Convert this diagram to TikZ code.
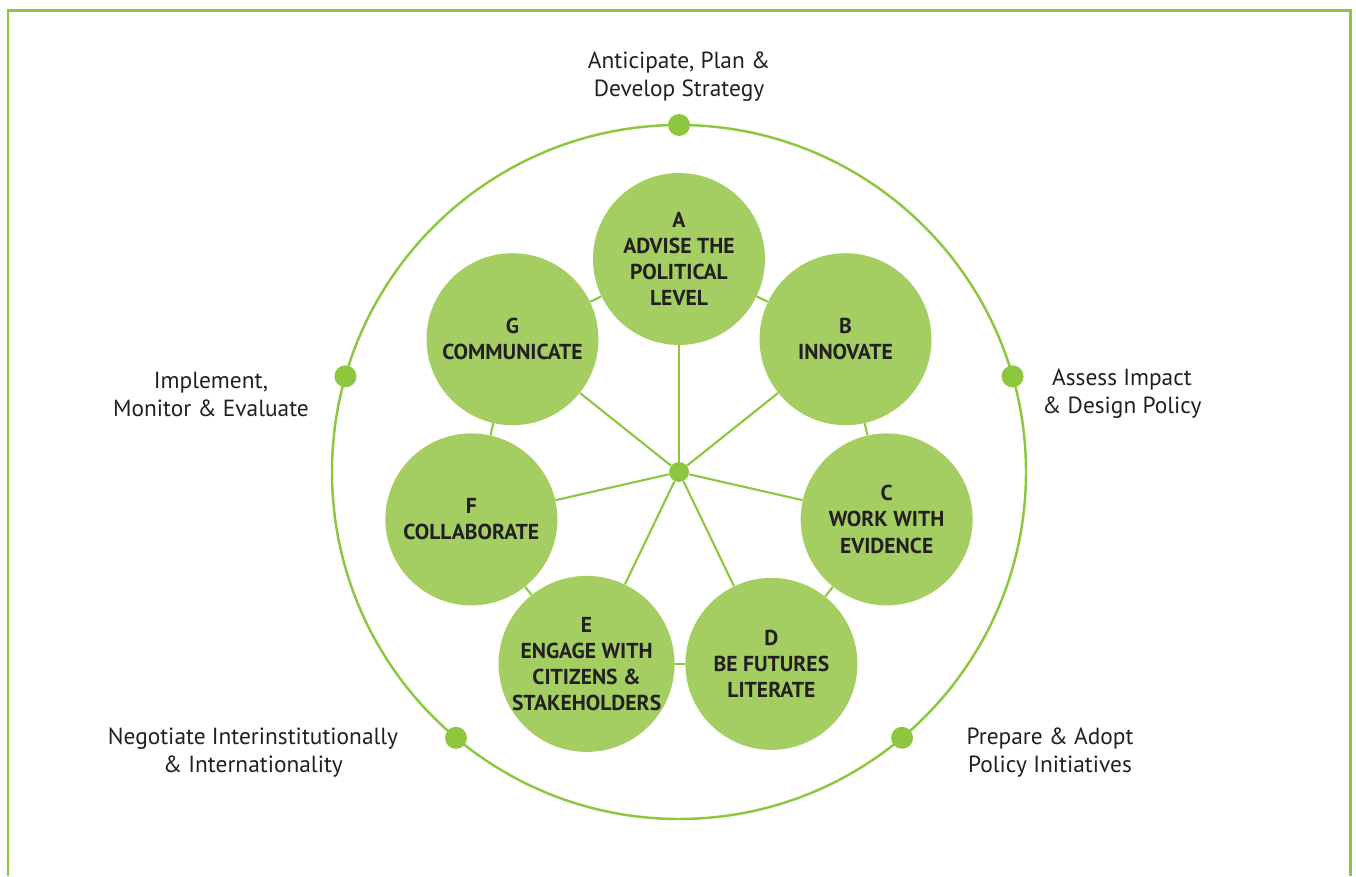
\documentclass[tikz,border=0pt]{standalone}
\usepackage{fontspec}
\setmainfont{PT Sans}
\usetikzlibrary{positioning,calc,backgrounds}

\definecolor{leafgreen}{RGB}{141,198,63}
\definecolor{softgreen}{RGB}{165,206,98}
\definecolor{inkgray}{RGB}{35,31,32}

\begin{document}
\begin{tikzpicture}[x=0.02cm,y=0.02cm,
	frame/.style={draw=leafgreen,line width=1.7pt},
	link/.style={draw=leafgreen,line width=1.2pt},
	skill node/.style={circle,fill=softgreen,minimum size=3.44cm,inner sep=0pt,
		align=center,text=inkgray,font=\bfseries\fontsize{12.3}{14.9}\selectfont},
	phase dot/.style={circle,fill=leafgreen,minimum size=0.44cm,inner sep=0pt},
	hub dot/.style={circle,fill=leafgreen,minimum size=0.4cm,inner sep=0pt},
	phase label/.style={align=center,text=inkgray,font=\fontsize{13.3}{15.9}\selectfont}]
	
	\useasboundingbox (0,0) rectangle (1356,876);
	\draw[frame] (8,0) -- (8,865) -- (1350,865) -- (1350,0);
	
	\node[hub dot] (hub) at (679,404) {};
	\draw[link,line width=1.4pt] (hub) circle (347);
	
	% competences round the hub
	\foreach \name/\txt [count=\i from 0] in {
		A/{A\\ADVISE THE\\POLITICAL\\LEVEL},
		B/{B\\INNOVATE},
		C/{C\\WORK WITH\\EVIDENCE},
		D/{D\\BE FUTURES\\LITERATE},
		E/{E\\ENGAGE WITH\\CITIZENS \&\\STAKEHOLDERS},
		F/{F\\COLLABORATE},
		G/{G\\COMMUNICATE}}
	\node[skill node] (\name) at ($(hub)+({90-\i*360/7}:213)$) {\txt};
	
	\begin{scope}[on background layer]
		\foreach \a/\b in {A/B,B/C,C/D,D/E,E/F,F/G,G/A}
		\draw[link] (\a) -- (\b);
		\foreach \a in {A,B,C,D,E,F,G}
		\draw[link] (hub) -- (\a);
	\end{scope}
	
	% policy cycle
	\node[phase dot] (p1) at ($(hub)+(90:347)$) {};
	\node[phase dot] (p2) at ($(hub)+(16:347)$) {};
	\node[phase dot] (p3) at ($(hub)+(-50:347)$) {};
	\node[phase dot] (p4) at ($(hub)+(-130:347)$) {};
	\node[phase dot] (p5) at ($(hub)+(164:347)$) {};
	
	\node[phase label] (l1) at (679,799) {Anticipate, Plan \&\\Develop Strategy};
	\node[phase label] (l2) at (1122,482) {Assess Impact\\\& Design Policy};
	\node[phase label] (l3) at (1050,123) {Prepare \& Adopt\\Policy Initiatives};
	\node[phase label] (l4) at (253,123) {Negotiate Interinstitutionally\\\& Internationality};
	\node[phase label] (l5) at (211,482) {Implement,\\Monitor \& Evaluate};
\end{tikzpicture}
\end{document}
